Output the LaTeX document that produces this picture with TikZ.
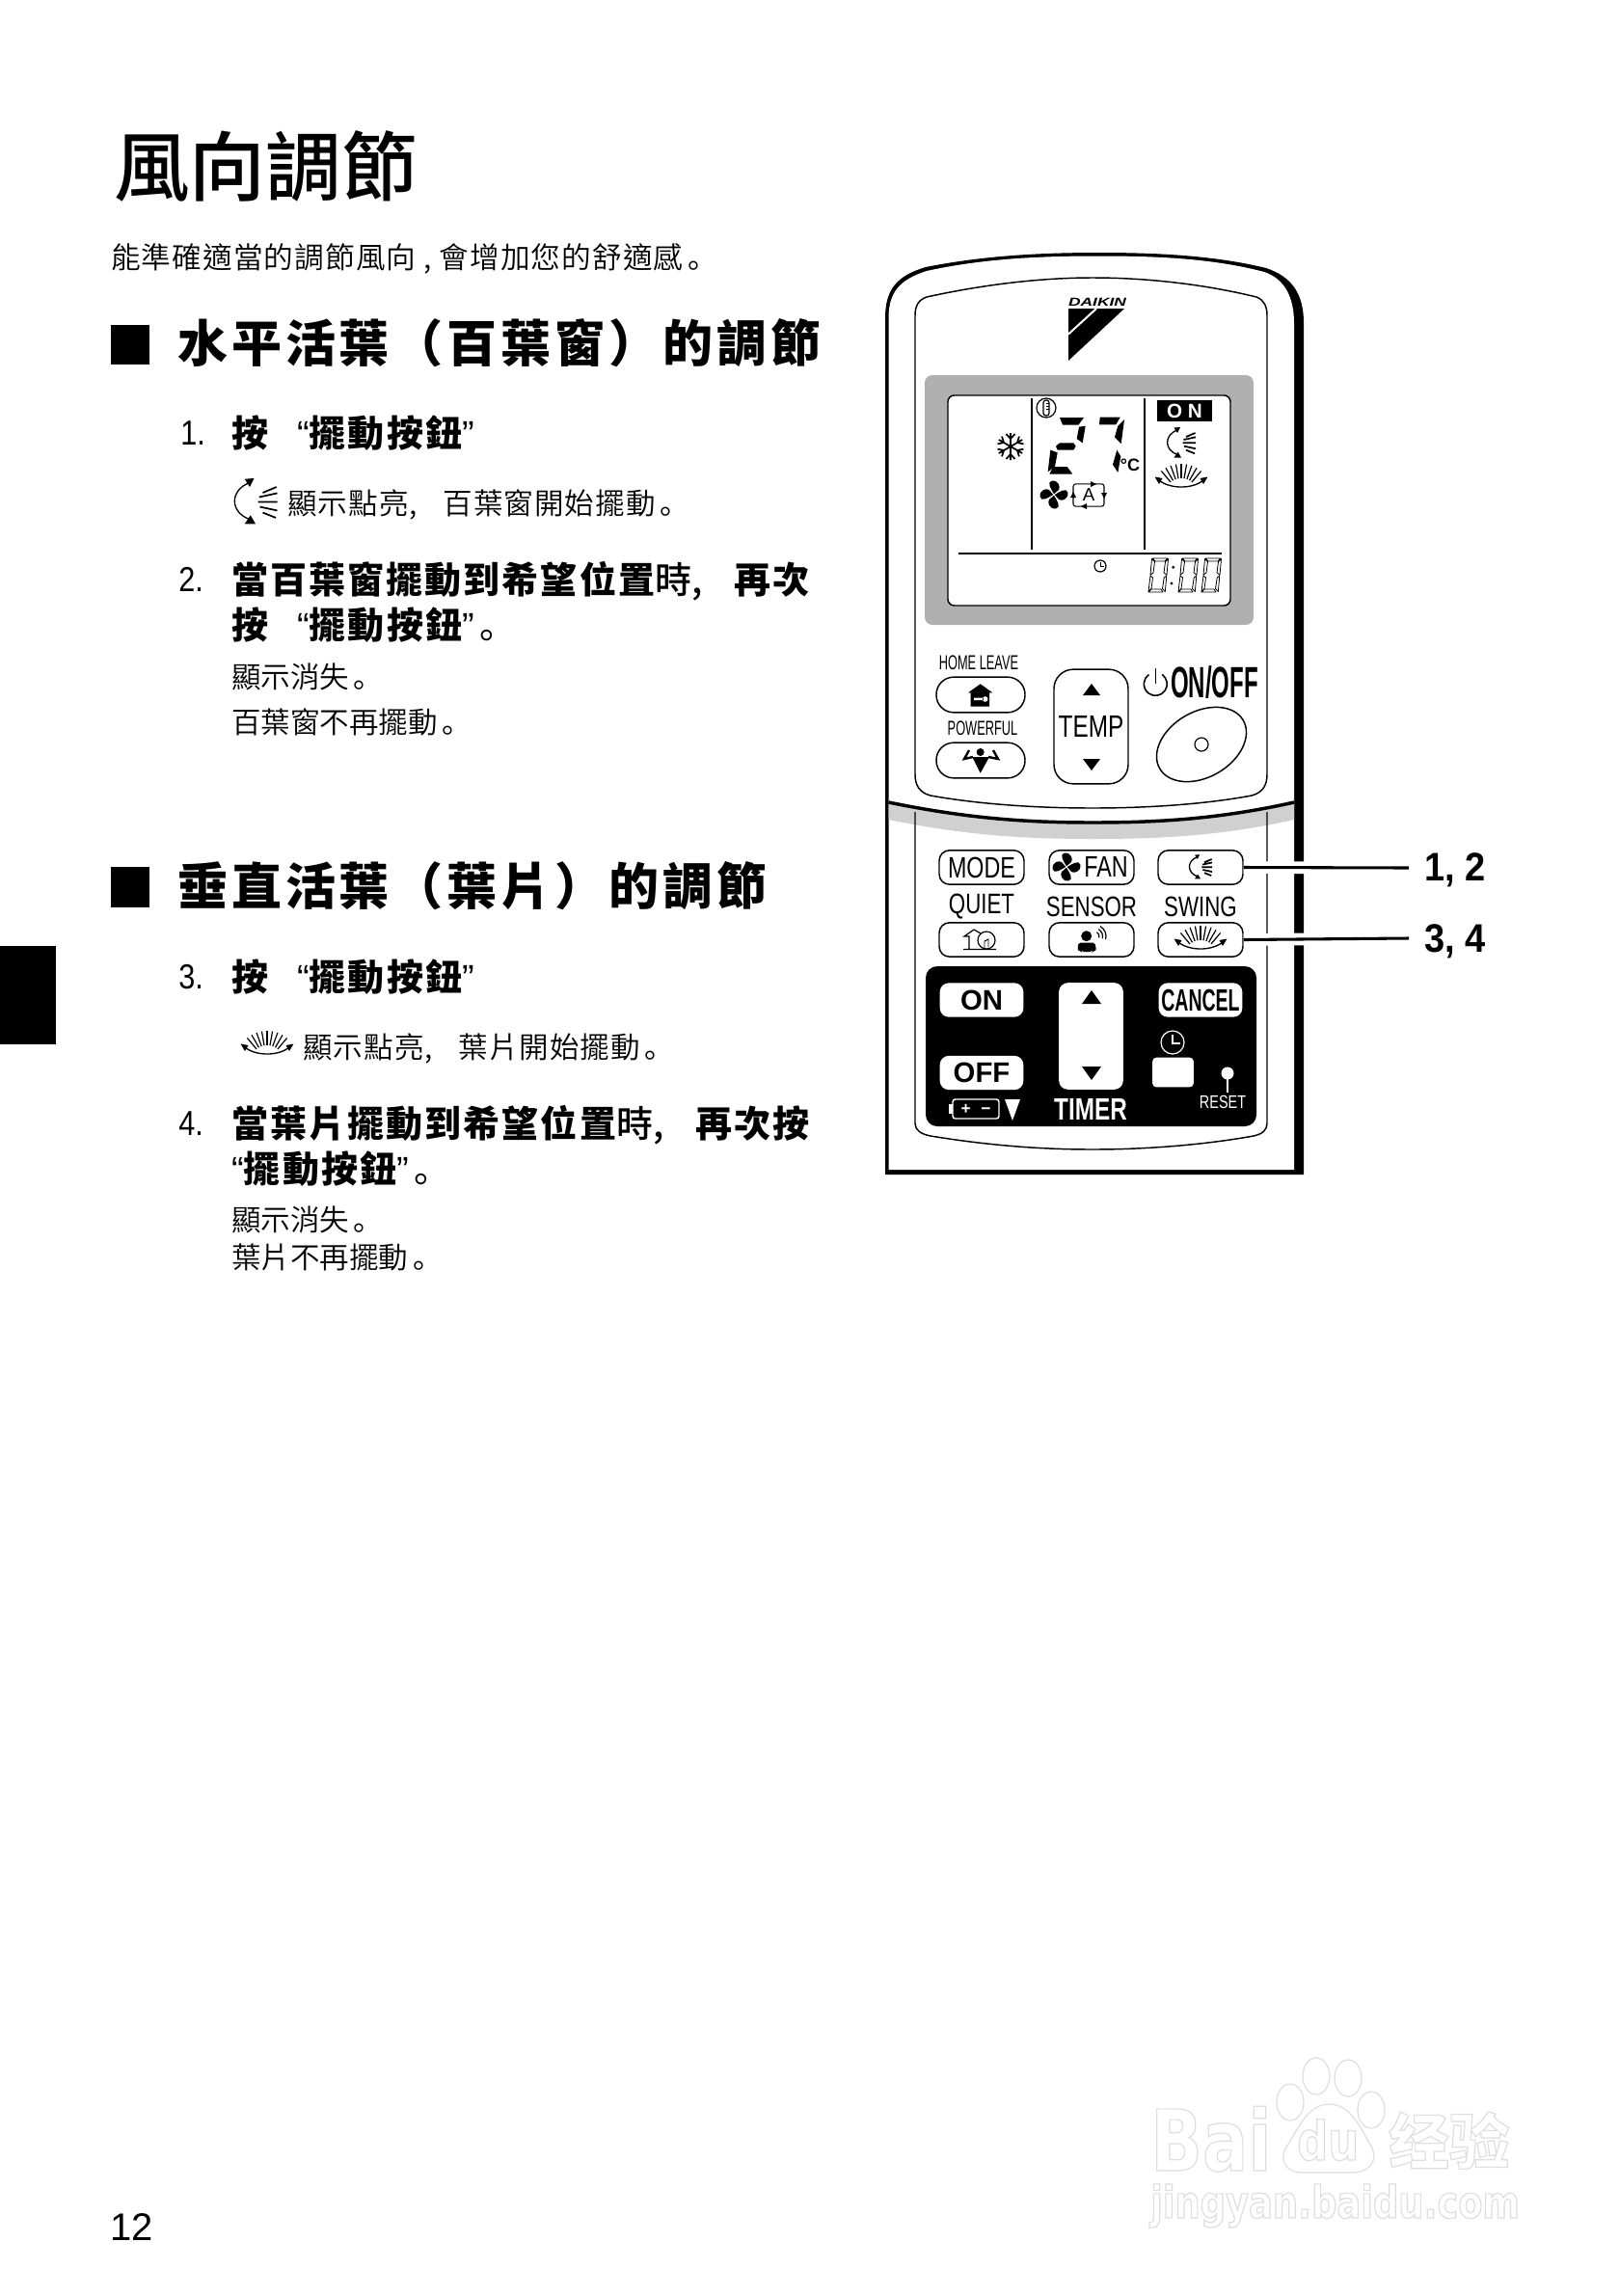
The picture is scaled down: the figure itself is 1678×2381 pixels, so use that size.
\documentclass[tikz,border=0pt]{standalone}
\usepackage{fontspec}
\setmainfont{Liberation Sans}
\newfontfamily\cjkfont{Noto Sans CJK TC DemiLight}
\newfontfamily\cjknote[LetterSpace=3.5]{Noto Sans CJK TC DemiLight}
\newfontfamily\cjkmed{Noto Sans CJK TC Medium}
\newfontfamily\cjkscfont{Noto Sans CJK SC}
\newfontfamily\headfont[LetterSpace=7.5]{Noto Sans CJK TC}
\newfontfamily\itemfont[LetterSpace=5.5]{Noto Sans CJK TC}
\newfontfamily\narrowfont[FakeStretch=0.76]{Liberation Sans}
\newfontfamily\stepfont[FakeStretch=0.85]{Liberation Sans}
\newfontfamily\calloutfont[FakeStretch=0.92]{Liberation Sans}
\newfontfamily\thinfont[FakeStretch=0.61]{Liberation Sans}
\newfontfamily\slimfont[FakeStretch=0.53]{Liberation Sans}
\newfontfamily\logofont[FakeStretch=1.45]{Liberation Sans}
\newfontfamily\wmfont[FakeStretch=0.8]{DejaVu Sans}
\definecolor{bezelgrey}{RGB}{176,176,176}
\definecolor{shadegrey}{RGB}{208,208,208}
\definecolor{wmgrey}{RGB}{222,222,222}
\newcommand\wmon{\special{pdf:code 1 Tr 0.9 w}}
\newcommand\wmoff{\special{pdf:code 0 Tr}}
\newcommand\cjkstop{\hspace{0.15em}{\cjkscfont 。}}
\tikzset{
  tnode/.style={anchor=base west,inner sep=0pt},
  cnode/.style={inner sep=0pt},
  pillbtn/.style={draw,line width=1.1pt,rounded corners=13.5pt,minimum width=69pt,minimum height=27.5pt,inner sep=0pt},
  keybtn/.style={draw,line width=1.1pt,rounded corners=8pt,minimum width=66pt,minimum height=26.5pt,inner sep=0pt},
  timerbtn/.style={fill=white,rounded corners=7pt,minimum width=65pt,minimum height=26.5pt,inner sep=0pt},
  leader/.style={line width=2.3pt,preaction={draw,white,line width=9.5pt}},
  wmline/.style={draw=wmgrey,line width=0.9pt},
  pics/vaneud/.style={code={
    \begin{scope}[yscale=-1]
    \draw[line width=1pt] (-4,-13) .. controls (-18,-8) and (-18,8) .. (-3.5,12.5);
    \fill (-1,-16) -- (-7.5,-15.5) -- (-4,-10) -- cycle;
    \fill (0,15.5) -- (-7.5,15.5) -- (-3.5,9.5) -- cycle;
    \draw[line width=1.3pt] (5,-6) -- (14.5,-10) (2.5,-3) -- (15,-5.7) (1.7,0.3) -- (15,0.3) (3,3.7) -- (15,6.3) (5,7.7) -- (14,11.3);
    \end{scope}
  }},
  pics/vanelr/.style={code={
    \begin{scope}[yscale=-1]
    \draw[line width=1pt] (-22,6) .. controls (-10,14) and (10,14) .. (22,6);
    \fill (-27.5,1.5) -- (-23,9) -- (-19.5,3) -- cycle;
    \fill (27.5,1.5) -- (23,9) -- (19.5,3) -- cycle;
    \foreach \a in {-40,-30,...,40}
      \draw[line width=0.9pt] ({sin(\a)*17},{20-cos(\a)*17}) -- ({sin(\a)*32},{20-cos(\a)*32});
    \end{scope}
  }},
  pics/fanicon/.style={code={
    \begin{scope}[yscale=-1]
    \foreach \a in {0,90,180,270}
      \fill[rotate=\a] (0,-0.8) .. controls (-3,-6) and (-8,-13) .. (-2,-14.5) .. controls (5,-15) and (7,-8) .. (5,-5) .. controls (3,-3) and (1,-2) .. cycle;
    \end{scope}
  }},
  pics/lcdzero/.style={code={
    \begin{scope}[yscale=-1]
    \draw[line width=0.6pt,line join=round]
      (5,-35) -- (21,-35) -- (18,-32) -- (8,-32) -- cycle
      (1,0) -- (16,0) -- (14,-3) -- (4,-3) -- cycle
      (4.5,-34.5) -- (7.5,-31.5) -- (6,-20) -- (3,-18) -- cycle
      (3,-17) -- (5.5,-15) -- (4,-3.5) -- (1,-0.5) -- cycle
      (21.5,-34.5) -- (20,-18) -- (17,-20) -- (18.5,-31.5) -- cycle
      (19.8,-17) -- (17.2,-15) -- (15.5,-3.5) -- (18.3,-0.5) -- cycle;
    \end{scope}
  }},
}
\begin{document}
\begin{tikzpicture}[x=0.75pt,y=0.75pt,yscale=-1,xscale=1]
\useasboundingbox (0,0) rectangle (1678,2381);
\fill[white] (0,0) rectangle (1678,2381);

% Text Node
\node[tnode] (title) at (118,202) {\cjkmed\fontsize{59}{60}\selectfont 風向調節};
\node[tnode] (intro) at (115,278) {\cjknote\fontsize{23}{26}\selectfont 能準確適當的調節風向 , 會增加您的舒適感\cjkstop};
%Shape: Rectangle
\fill (115,337) rectangle (155,378);
\fill (115,899) rectangle (155,941);
\fill (0,981) rectangle (58,1083);
% Text Node
\node[tnode] (headone) at (184,375.5) {\headfont\bfseries\fontsize{39}{42}\selectfont 水平活葉（百葉窗）的調節};
\node[tnode] (headtwo) at (184,938) {\headfont\bfseries\fontsize{39}{42}\selectfont 垂直活葉（葉片）的調節};

% Text Node
\node[tnode] (numone) at (187,461) {\stepfont\fontsize{27}{28}\selectfont 1.};
\node[tnode] (stepone) at (240,463) {{\itemfont\bfseries\fontsize{28.5}{30}\selectfont 按}\hspace*{22.5pt}{\fontsize{28.5}{30}\selectfont “}{\itemfont\bfseries\fontsize{28.5}{30}\selectfont 擺動按鈕}{\fontsize{28.5}{30}\selectfont ”}};
\pic[scale=1.5] at (265,520) {vaneud};
\node[tnode] (noteone) at (298,533) {\cjknote\fontsize{22.9}{25}\selectfont 顯示點亮,\hspace*{20pt}百葉窗開始擺動\cjkstop};
\node[tnode] (numtwo) at (185,613) {\stepfont\fontsize{27}{28}\selectfont 2.};
\node[tnode] (steptwoa) at (240,615) {\itemfont\bfseries\fontsize{28.5}{30}\selectfont 當百葉窗擺動到希望位置{\cjkmed\mdseries 時,}\hspace*{24.6pt}再次};
\node[tnode] (steptwob) at (240,662) {{\itemfont\bfseries\fontsize{28.5}{30}\selectfont 按}\hspace*{22.5pt}{\fontsize{28.5}{30}\selectfont “}{\itemfont\bfseries\fontsize{28.5}{30}\selectfont 擺動按鈕}{\fontsize{28.5}{30}\selectfont ”}{\fontsize{28.5}{30}\selectfont \cjkstop}};
\node[tnode] (notetwoa) at (240,713) {\cjkfont\fontsize{22.9}{25}\selectfont 顯示消失\cjkstop};
\node[tnode] (notetwob) at (240,760) {\cjkfont\fontsize{22.9}{25}\selectfont 百葉窗不再擺動\cjkstop};

\node[tnode] (numthree) at (185,1025) {\stepfont\fontsize{27}{28}\selectfont 3.};
\node[tnode] (stepthree) at (240,1027) {{\itemfont\bfseries\fontsize{28.5}{30}\selectfont 按}\hspace*{22.5pt}{\fontsize{28.5}{30}\selectfont “}{\itemfont\bfseries\fontsize{28.5}{30}\selectfont 擺動按鈕}{\fontsize{28.5}{30}\selectfont ”}};
\pic at (277,1081) {vanelr};
\node[tnode] (notethree) at (314,1097) {\cjknote\fontsize{22.9}{25}\selectfont 顯示點亮,\hspace*{20pt}葉片開始擺動\cjkstop};
\node[tnode] (numfour) at (185,1177) {\stepfont\fontsize{27}{28}\selectfont 4.};
\node[tnode] (stepfoura) at (240,1179) {\itemfont\bfseries\fontsize{28.5}{30}\selectfont 當葉片擺動到希望位置{\cjkmed\mdseries 時,}\hspace*{25pt}再次按};
\node[tnode] (stepfourb) at (240,1226) {{\fontsize{28.5}{30}\selectfont “}{\itemfont\bfseries\fontsize{28.5}{30}\selectfont 擺動按鈕}{\fontsize{28.5}{30}\selectfont ”}{\fontsize{28.5}{30}\selectfont \cjkstop}};
\node[tnode] (notefoura) at (240,1276) {\cjkfont\fontsize{22.9}{25}\selectfont 顯示消失\cjkstop};
\node[tnode] (notefourb) at (240,1315) {\cjkfont\fontsize{22.9}{25}\selectfont 葉片不再擺動\cjkstop};
\node[tnode] (pagenum) at (114,2323) {\fontsize{30}{32}\selectfont 12};

%Shape: Remote body
\fill (918,1218) -- (918,330) .. controls (918,300) and (930,286) .. (960,277) .. controls (1020,265) and (1080,262) .. (1140,262) .. controls (1200,262) and (1260,265) .. (1313,278) .. controls (1340,287) and (1352,305) .. (1352,335) -- (1352,1218) -- cycle;
\fill[white] (921.5,1213) -- (921.5,330) .. controls (921.5,303) and (933,290) .. (961,281) .. controls (1020,268) and (1080,265.5) .. (1140,265.5) .. controls (1200,265.5) and (1258,268) .. (1311,282) .. controls (1332,289) and (1342,308) .. (1342,335) -- (1342,1213) -- cycle;
%Shape: Lower shade
\fill[shadegrey] (921.5,832) .. controls (1000,848) and (1060,853) .. (1133,853) .. controls (1210,853) and (1270,848) .. (1342,832) -- (1342,850) .. controls (1270,866) and (1210,870) .. (1133,870) .. controls (1060,870) and (1000,866) .. (921.5,850) -- cycle;
%Shape: Upper panel
\draw[line width=1.1pt] (949,803) -- (949,327) .. controls (949,318) and (952,311) .. (961,308) .. controls (1020,295) and (1080,288) .. (1133,288) .. controls (1190,288) and (1250,295) .. (1303,308) .. controls (1311,311) and (1314,318) .. (1314,327) -- (1314,803) .. controls (1314,815) and (1309,822) .. (1298,825) .. controls (1250,834) and (1190,838) .. (1133,838) .. controls (1075,838) and (1015,834) .. (965,825) .. controls (954,822) and (949,815) .. (949,803) -- cycle;
%Shape: Lower panel
\draw[line width=1.1pt] (949,842) -- (949,1165) .. controls (949,1172) and (955,1176) .. (965,1178) .. controls (1020,1187) and (1075,1192) .. (1133,1192) .. controls (1190,1192) and (1250,1187) .. (1300,1178) .. controls (1309,1176) and (1314,1172) .. (1314,1165) -- (1314,842);
%Straight Lines
\draw[line width=2.6pt] (921.5,832) .. controls (1000,848) and (1060,853) .. (1133,853) .. controls (1210,853) and (1270,848) .. (1342,832);

%Shape: Logo
\node[cnode] (daikin) at (1138,313) {\logofont\bfseries\itshape\fontsize{9}{10}\selectfont DAIKIN};
\fill (1108,320) -- (1166,320) -- (1108,374) -- cycle;
\draw[white,line width=1.5pt] (1108,346.5) -- (1137,320);

%Shape: LCD
\fill[bezelgrey,rounded corners=6pt] (959,389) rectangle (1300,648);
\draw[fill=white,line width=1.1pt,rounded corners=5pt] (983,410) rectangle (1276,628);
\draw[line width=1.1pt] (1070,413) -- (1070,570) (1187,413) -- (1187,570) (994,574) -- (1267,574);
\node[fill=black,text=white,inner sep=0pt,minimum width=42.75pt,minimum height=16.5pt] (onflag) at (1228.5,426) {\bfseries\fontsize{15.5}{16}\selectfont O N};
%Shape: Snowflake
\foreach \a in {0,60,...,300}
  \draw[line width=1.3pt,shift={(1048,463)},rotate=\a] (0,0) -- (0,-14) (-4.5,-13) -- (0,-8) -- (4.5,-13);
%Shape: Thermometer
\draw[line width=0.9pt] (1085,423) circle (10);
\draw[line width=0.9pt,rounded corners=2pt] (1082,415) rectangle (1088,431);
\draw[line width=0.6pt] (1085,418) -- (1088,418) (1085,421) -- (1088,421) (1085,424) -- (1088,424);
%Shape: Digit segments
\fill (1099,433) -- (1124,433) -- (1118.5,440.5) -- (1102,440.5) -- cycle;
\fill (1125.7,441.7) -- (1122.7,459.3) -- (1116.7,455) -- (1119,442.7) -- cycle;
\fill (1099,459.3) -- (1113.3,459.3) -- (1115.7,462.7) -- (1113.3,466.7) -- (1096.7,466.7) -- (1095,462.7) -- cycle;
\fill (1089.3,466.7) -- (1096.7,469.3) -- (1094,484) -- (1086.7,489.3) -- cycle;
\fill (1092.3,484) -- (1106.7,484) -- (1112.3,491.7) -- (1088.3,491.7) -- cycle;
\fill (1140.7,432.7) -- (1161.7,432.7) -- (1157.3,440.3) -- (1140,440.3) -- cycle;
\fill (1166,435) -- (1162.7,460) -- (1156,453.3) -- (1159.3,441.7) -- cycle;
\fill (1158.3,466.7) -- (1162.3,473.3) -- (1159.3,490) -- (1154,481.7) -- cycle;
\node[cnode] (degree) at (1172,482) {\bfseries\fontsize{13.5}{14}\selectfont °C};
\pic at (1093,513) {fanicon};
%Shape: Auto box
\node[draw,line width=0.8pt,rounded corners=2pt,inner sep=0pt,minimum width=24pt,minimum height=17.5pt] (autobox) at (1129,513.5) {\fontsize{14}{15}\selectfont A};
\fill (1113,510) -- (1116,516) -- (1110,516) -- cycle (1145,517) -- (1142,511) -- (1148,511) -- cycle (1137,502) -- (1131,499) -- (1131,505) -- cycle (1121,525) -- (1127,522) -- (1127,528) -- cycle;
\pic at (1225,459) {vaneud};
\pic at (1225,493) {vanelr};
%Shape: Clock
\draw[line width=0.9pt] (1141,587) circle (6);
\draw[line width=0.7pt] (1141,583) -- (1141,587) -- (1145,587);
\pic at (1190,614) {lcdzero};
\pic at (1221,614) {lcdzero};
\pic at (1245,614) {lcdzero};
\fill (1216.7,588.3) circle (1.6) (1215,605) circle (1.6);

% Upper keys
\node[cnode] (homelabel) at (1015,687) {\thinfont\fontsize{15.75}{17}\selectfont HOME LEAVE};
\node[pillbtn] (homebtn) at (1017,720.5) {};
\fill (1004,718.3) -- (1016.7,709.3) -- (1029.3,718.3) -- (1026,718.3) -- (1026,732.7) -- (1006.7,732.7) -- (1006.7,718.3) -- cycle;
\fill[white] (1021.7,725) circle (2.8) (1010,723.5) rectangle (1020,726);
\node[cnode] (powerlabel) at (1019,755) {\thinfont\fontsize{15.75}{17}\selectfont POWERFUL};
\node[pillbtn] (powerbtn) at (1017,788.5) {};
\fill (1016.7,780) circle (4) (1008.3,785) -- (1026,785) -- (1016.7,801.7) -- cycle;
\draw[line width=1.8pt] (1009,785) -- (1000,787) -- (1005,778) (1025,785) -- (1035,787) -- (1030,778);
\node[draw,line width=1.1pt,rounded corners=15pt,inner sep=0pt,minimum width=57.75pt,minimum height=89pt] (tempbtn) at (1131.5,753.5) {\narrowfont\fontsize{24}{25}\selectfont TEMP};
\fill (1132,709) -- (1141,721) -- (1123,721) -- cycle (1132,799) -- (1141,787) -- (1123,787) -- cycle;
%Shape: Power symbol
\draw[line width=1.2pt] (1198.3,709.3) ++(-55:12) arc[start angle=-55,end angle=235,radius=12];
\draw[line width=1.2pt] (1198.3,693) -- (1198.3,709);
\node[cnode] (onofflabel) at (1259.5,708) {\slimfont\bfseries\fontsize{34}{35}\selectfont ON/OFF};
\draw[line width=1.1pt,rotate around={-30:(1246,772)}] (1246,772) ellipse (50 and 34);
\draw[line width=0.9pt] (1246,772) circle (7);

% Lower keys
\node[keybtn] (modebtn) at (1018,899.5) {\narrowfont\fontsize{23}{24}\selectfont MODE};
\node[keybtn] (fanbtn) at (1132,899.5) {};
\pic at (1106,899) {fanicon};
\node[cnode] (fanlabel) at (1147,899) {\narrowfont\fontsize{23}{24}\selectfont FAN};
\node[keybtn] (updownbtn) at (1245,899.5) {};
\pic[scale=0.8] at (1245,899) {vaneud};
\node[cnode] (quietlabel) at (1018,940) {\narrowfont\fontsize{22}{23}\selectfont QUIET};
\node[cnode] (sensorlabel) at (1132,940) {\narrowfont\fontsize{22}{23}\selectfont SENSOR};
\node[cnode] (swinglabel) at (1245,940) {\narrowfont\fontsize{22}{23}\selectfont SWING};
\node[keybtn] (quietbtn) at (1018,974.5) {};
\draw[line width=0.9pt] (999,984.5) -- (1033,984.5) (1005,984.5) -- (1005,971) -- (1000,971) -- (1010,964) -- (1017,968);
\draw[line width=0.9pt] (1023,975) circle (9);
\draw[line width=0.7pt] (1021,984) -- (1021,976) -- (1025,974) -- (1025,982);
\node[keybtn] (sensorbtn) at (1132,974.5) {};
\fill (1126.7,970.7) circle (5.5);
\fill[rounded corners=1.5pt] (1118.3,977.5) -- (1135.5,977.5) -- (1137,986) -- (1133,986) -- (1132.5,987) -- (1122,987) -- (1121.5,986) -- (1117.5,986) -- cycle;
\draw[line width=0.9pt] (1135,971) ++(-60:5) arc[start angle=-60,end angle=15,radius=5];
\draw[line width=0.9pt] (1135,971) ++(-60:8.5) arc[start angle=-60,end angle=15,radius=8.5];
\draw[line width=0.9pt] (1135,971) ++(-60:12) arc[start angle=-60,end angle=15,radius=12];
\node[keybtn] (swingbtn) at (1245,974.5) {};
\pic at (1245,972) {vanelr};

%Shape: Timer panel
\fill[rounded corners=9pt] (960,1002) rectangle (1303,1168);
\node[timerbtn] (onbtn) at (1018,1037) {\bfseries\fontsize{22}{23}\selectfont ON};
\node[timerbtn] (offbtn) at (1018,1112.5) {\bfseries\fontsize{22}{23}\selectfont OFF};
\node[timerbtn] (cancelbtn) at (1245,1037) {\thinfont\bfseries\fontsize{24}{25}\selectfont CANCEL};
\node[fill=white,rounded corners=7pt,inner sep=0pt,minimum width=50pt,minimum height=83pt] (timerbtn) at (1131.5,1074.5) {};
\fill (1132,1027) -- (1142,1041) -- (1122,1041) -- cycle (1132,1120) -- (1142,1106) -- (1122,1106) -- cycle;
\draw[white,line width=0.9pt] (1216,1081) circle (12);
\draw[white,line width=0.8pt] (1216,1073) -- (1216,1082) -- (1224,1082);
\node[fill=white,rounded corners=3pt,inner sep=0pt,minimum width=32pt,minimum height=23pt] (setbtn) at (1216.5,1112) {};
\fill[white] (1273,1113) circle (6.5);
\draw[white,line width=1pt] (1273,1115) -- (1273,1133);
\node[cnode,text=white] (resetlabel) at (1268,1143) {\narrowfont\fontsize{14.25}{15}\selectfont RESET};
\node[draw=white,line width=1.1pt,rounded corners=2pt,inner sep=0pt,minimum width=36pt,minimum height=15pt,text=white] (battery) at (1012,1150) {\bfseries\fontsize{13}{14}\selectfont +\hspace{8pt}−};
\fill[white] (984,1145) rectangle (988,1155);
\fill[white] (1042,1140) -- (1058,1140) -- (1050,1162) -- cycle;
\node[cnode,text=white] (timerlabel) at (1131,1150) {\narrowfont\bfseries\fontsize{24}{25}\selectfont TIMER};

%Straight Lines
\coordinate (labelabend) at (1461,900);
\coordinate (labelcdend) at (1461,973);
\node[anchor=west,inner sep=0pt] (labelab) at (1477,902) {\calloutfont\bfseries\fontsize{31}{32}\selectfont 1, 2};
\node[anchor=west,inner sep=0pt] (labelcd) at (1477,976) {\calloutfont\bfseries\fontsize{31}{32}\selectfont 3, 4};
\draw[leader] (updownbtn.east) -- (labelabend);
\draw[leader] (swingbtn.east) -- (labelcdend);

%Shape: Watermark
\draw[wmline] (1338,2180) ellipse (14 and 19) (1365,2153) ellipse (14 and 19) (1398,2155) ellipse (14 and 19) (1422,2188) ellipse (14 and 19);
\draw[wmline] (1378,2182) .. controls (1400,2182) and (1410,2205) .. (1420,2222) .. controls (1432,2240) and (1420,2254) .. (1400,2253) -- (1352,2253) .. controls (1335,2254) and (1323,2240) .. (1337,2222) .. controls (1347,2205) and (1358,2182) .. (1378,2182) -- cycle;
\node[tnode,text=wmgrey] (wmbai) at (1193,2251) {\wmon\wmfont\bfseries\fontsize{66}{68}\selectfont Bai\wmoff};
\node[tnode,text=wmgrey] (wmdu) at (1345,2240) {\wmon\wmfont\bfseries\fontsize{42}{44}\selectfont du\wmoff};
\node[tnode,text=wmgrey] (wmjy) at (1440,2244) {\wmon\cjkscfont\bfseries\fontsize{47}{48}\selectfont 经验\wmoff};
\node[tnode,text=wmgrey] (wmurl) at (1193,2300) {\wmon\wmfont\bfseries\fontsize{34.5}{36}\selectfont jingyan.baidu.com\wmoff};
\end{tikzpicture}
\end{document}
